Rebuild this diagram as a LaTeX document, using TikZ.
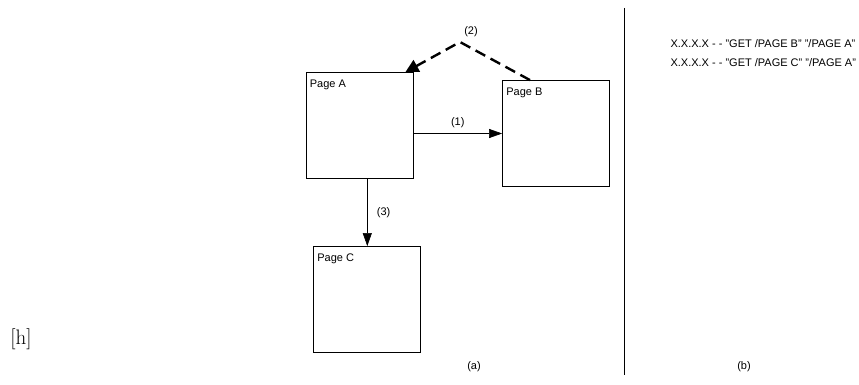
\documentclass[tikz,border=0pt]{standalone}
\usepackage{fontspec}
\setsansfont{Liberation Sans}
\usetikzlibrary{arrows.meta, positioning, calc}

\tikzset{
  page/.style={draw, line width=0.8pt, minimum width=107pt, minimum height=106pt, inner sep=0pt},
  pagename/.style={font=\sffamily\fontsize{11}{13}\selectfont, anchor=north west, inner sep=0pt},
  lbl/.style={font=\sffamily\fontsize{11}{13}\selectfont},
  link/.style={line width=0.6pt, -{Triangle[length=13pt, width=9pt]}},
  back/.style={line width=2.4pt, dash pattern=on 11pt off 6pt, -{Triangle[length=13pt, width=13pt]}}
}

\begin{document}
\begin{tikzpicture}[x=1pt, y=-1pt]
    \useasboundingbox (0,0) rectangle (859,385);

    % the three pages
    \node[page] (pageA) at (359.5,125.5) {};
    \node[page] (pageB) at (556,133.5) {};
    \node[page] (pageC) at (367,299.5) {};
    \node[pagename] at ([shift={(4,8)}]pageA.north west) {Page A};
    \node[pagename] at ([shift={(4,8)}]pageB.north west) {Page B};
    \node[pagename] at ([shift={(4,8)}]pageC.north west) {Page C};

    % links between them
    \draw[link] (pageA.east |- 0,133.5) -- node[lbl, above=2pt] {(1)} (pageB.west |- 0,133.5);
    \draw[link] (367.3,0 |- pageA.south) -- node[lbl, right=6pt] {(3)} (367.3,0 |- pageC.north);

    \coordinate (apex) at (460,42);
    \coordinate (startB) at ([xshift=-26]pageB.north);
    \draw[back] (startB) -- (apex) -- ([xshift=-8]pageA.north east);
    \node[lbl] at (471,32) {(2)};

    % divider and log
    \draw[line width=0.8pt] (624.3,8) -- (624.3,375);
    \node[lbl, anchor=west] (log1) at (667,44) {X.X.X.X - - "GET /PAGE B" "/PAGE A"};
    \node[lbl, below=3pt of log1.south west, anchor=north west] (log2) {X.X.X.X - - "GET /PAGE C" "/PAGE A"};

    \node[lbl] (capa) at (474,367) {(a)};
    \node[lbl] (capb) at (744,367) {(b)};
    \node[font=\fontsize{21}{25}\selectfont] (hpos) at (21,339) {[h]};
\end{tikzpicture}
\end{document}
